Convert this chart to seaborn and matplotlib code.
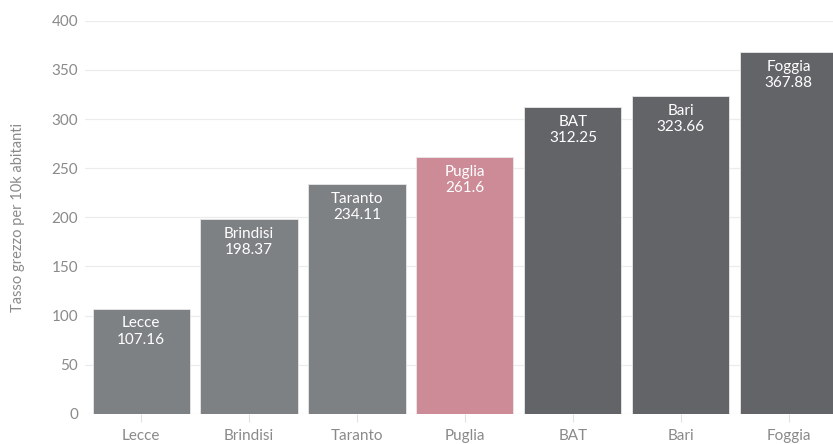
import matplotlib
matplotlib.use('Agg')
import matplotlib.pyplot as plt
import seaborn as sns
import pandas as pd

# dati
province = ['Lecce', 'Brindisi', 'Taranto', 'Puglia', 'BAT', 'Bari', 'Foggia']
tasso = [107.16, 198.37, 234.11, 261.6, 312.25, 323.66, 367.88]
colori = ['#7e8184', '#7e8184', '#7e8184', '#cc8b96', '#636468', '#636468', '#636468']

sns.set_theme(style='white')
plt.rcParams['font.family'] = ['Lato', 'DejaVu Sans']

df = pd.DataFrame({'provincia': province, 'tasso': tasso})

fig = plt.figure(figsize=(8.33, 4.44), dpi=100)
ax = fig.add_axes([0.102, 0.068, 0.898, 0.885])

sns.barplot(data=df, x='provincia', y='tasso', hue='provincia', palette=colori,
            width=0.9, legend=False, ax=ax, edgecolor='#e8e8e8', linewidth=0.6,
            saturation=1, zorder=2)

# etichette dentro le barre
for i, (p, v) in enumerate(zip(province, tasso)):
    ax.text(i, v - 8, f'{p}\n{v:g}', ha='center', va='top', color='white',
            fontsize=11, linespacing=1.2, zorder=3)

ax.set_ylim(0, 400)
ax.set_xlim(-0.52, 6.41)
ax.set_yticks(range(0, 401, 50))
ax.grid(axis='y', color='#ececec', linewidth=0.9, zorder=0)
ax.set_axisbelow(True)
for s in ax.spines.values():
    s.set_visible(False)
ax.set_xlabel('')
ax.set_ylabel('Tasso grezzo per 10k abitanti', color='#8a8a8a', fontsize=10.5, labelpad=19)
ax.tick_params(axis='y', length=0, labelcolor='#8a8a8a', labelsize=11, pad=5)
ax.tick_params(axis='x', length=6, color='#e0e0e0', width=0.8, labelcolor='#8a8a8a',
               labelsize=11, pad=5, direction='out', bottom=True)

fig.savefig('out.png', dpi=100)
